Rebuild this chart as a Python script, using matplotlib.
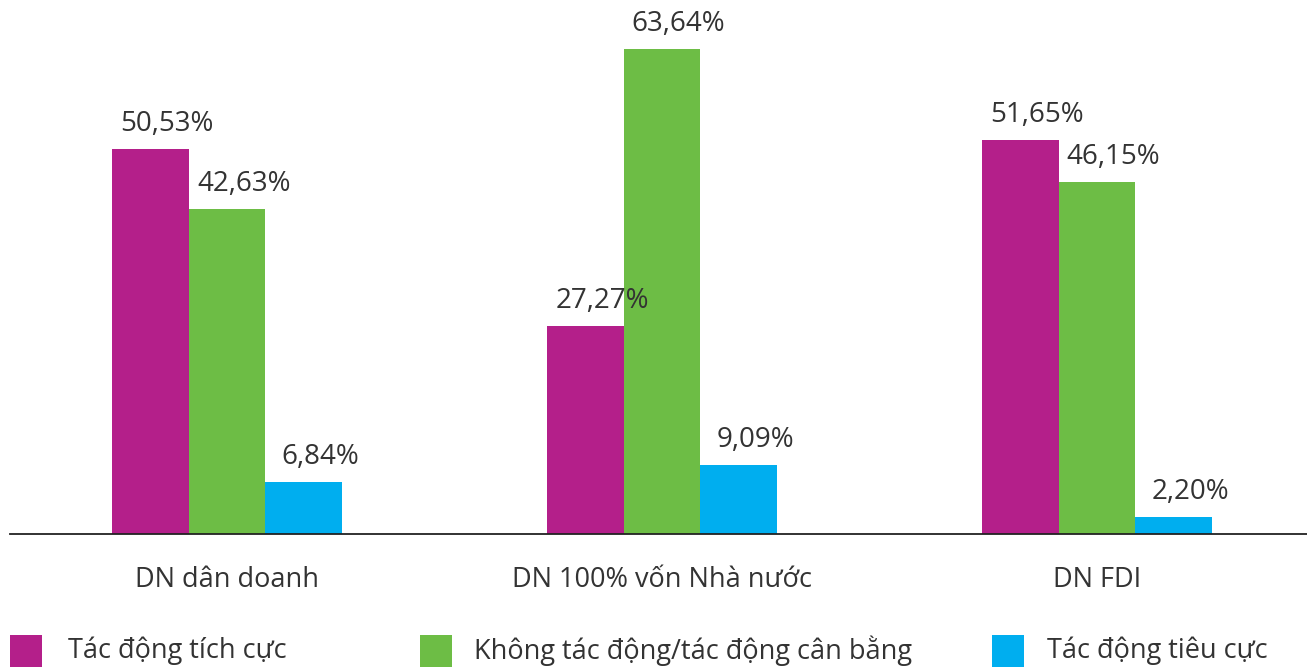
import matplotlib
matplotlib.use("Agg")
import matplotlib.pyplot as plt
from matplotlib.patches import Rectangle
import numpy as np

plt.rcParams['font.family'] = ['Open Sans', 'DejaVu Sans']

categories = ["DN dân doanh", "DN 100% vốn Nhà nước", "DN FDI"]
series_names = ["Tác động tích cực", "Không tác động/tác động cân bằng", "Tác động tiêu cực"]
positive = [50.53, 27.27, 51.65]
neutral = [42.63, 63.64, 46.15]
negative = [6.84, 9.09, 2.20]
colors = ["#B41F8A", "#6DBD45", "#00AEEF"]
text_color = "#333333"

W, H = 1307, 670
fig = plt.figure(figsize=(W / 100, H / 100), dpi=100)
ax_left, ax_right = 10, 1307
ax_top, ax_bottom = 10, 534
ax = fig.add_axes([ax_left / W, 1 - ax_bottom / H, (ax_right - ax_left) / W, (ax_bottom - ax_top) / H])

px_per_unit = 435.0
x0_px = 227.0
xlim = ((ax_left - x0_px) / px_per_unit, (ax_right - x0_px) / px_per_unit)
ax.set_xlim(*xlim)
ax.set_ylim(0, (ax_bottom - ax_top) / 7.62)

x = np.arange(len(categories))
bw = 76.5 / px_per_unit
for i, (vals, c) in enumerate(zip([positive, neutral, negative], colors)):
    xs = x + (i - 1) * bw
    ax.bar(xs, vals, width=bw, color=c, edgecolor='none', label=series_names[i])
    for xi, v in zip(xs, vals):
        ax.annotate(f"{v:.2f}%".replace('.', ','), (xi, v), xytext=(12, 8),
                    textcoords='offset points', ha='center', va='bottom',
                    fontsize=20, color=text_color)

for s in ['top', 'right', 'left']:
    ax.spines[s].set_visible(False)
ax.spines['bottom'].set_color('#222222')
ax.spines['bottom'].set_linewidth(1.3)
ax.set_yticks([])
ax.set_xticks(x)
ax.set_xticklabels(categories, fontsize=19.5, color=text_color)
ax.tick_params(axis='x', length=0, pad=23)

# legend
leg_sq = [10, 420, 992]
leg_tx = [68, 474, 1047]
for sx, tx, c, name in zip(leg_sq, leg_tx, colors, series_names):
    fig.add_artist(Rectangle((sx / W, 1 - 667 / H), 32 / W, 32 / H, transform=fig.transFigure,
                             facecolor=c, edgecolor='none'))
    fig.text(tx / W, 1 - 651 / H, name, fontsize=19.5, color=text_color, va='center', ha='left')

fig.savefig("out.png", dpi=100)
